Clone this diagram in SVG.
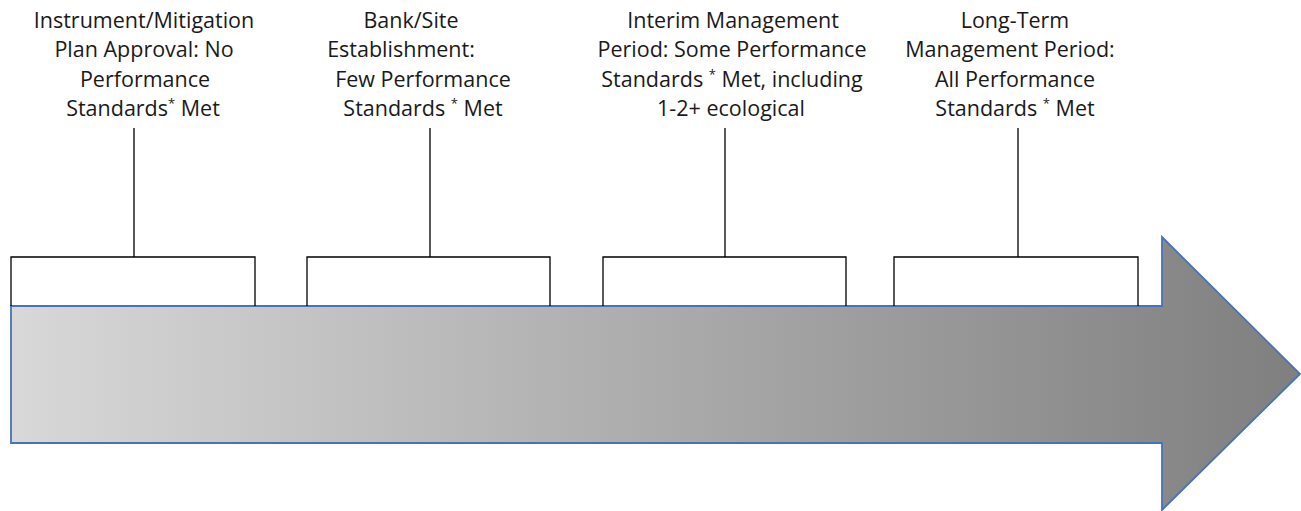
<svg xmlns="http://www.w3.org/2000/svg" width="1301" height="511" viewBox="0 0 1301 511">
  <defs>
    <linearGradient id="shaftFill" x1="11" y1="0" x2="1300" y2="0" gradientUnits="userSpaceOnUse">
      <stop offset="0" stop-color="#d8d8d8"/>
      <stop offset="1" stop-color="#7f7f7f"/>
    </linearGradient>
  </defs>
  <style>
    .label { font-family: "Open Sans", "Liberation Sans", sans-serif; font-size: 21.5px; fill: #1a1a1a; text-anchor: middle; }
    .sup { font-size: 13px; }
    .bracket { fill: none; stroke: #000; stroke-width: 1.3; }
    .timeline { fill: url(#shaftFill); stroke: #4a72b8; stroke-width: 1.8; stroke-linejoin: miter; }
  </style>

  <!-- Timeline arrow -->
  <g id="timeline">
    <path class="timeline" d="M11,306 H1162 V237 L1300,374 L1162,510 V443 H11 Z"/>
  </g>

  <!-- Connectors: brackets and stems from each label -->
  <g id="connectors">
    <path class="bracket" d="M134,128 V257 M11,306 V257 H255 V306"/>
    <path class="bracket" d="M430,128 V257 M307,306 V257 H550 V306"/>
    <path class="bracket" d="M725,128 V257 M603,306 V257 H846 V306"/>
    <path class="bracket" d="M1018,128 V257 M894,306 V257 H1138 V306"/>
  </g>

  <g id="stage-approval">
    <text class="label" x="144" y="28">Instrument/Mitigation</text>
    <text class="label" x="144" y="57">Plan Approval: No</text>
    <text class="label" x="145" y="87">Performance</text>
    <text class="label" x="143" y="116">Standards<tspan class="sup" dy="-8">*</tspan><tspan dy="8"> Met</tspan></text>
  </g>

  <g id="stage-establishment">
    <text class="label" x="411" y="28">Bank/Site</text>
    <text class="label" x="401" y="57">Establishment:</text>
    <text class="label" x="423" y="87">Few Performance</text>
    <text class="label" x="423" y="116">Standards <tspan class="sup" dy="-8">*</tspan><tspan dy="8"> Met</tspan></text>
  </g>

  <g id="stage-interim">
    <text class="label" x="733" y="28">Interim Management</text>
    <text class="label" x="732" y="57">Period: Some Performance</text>
    <text class="label" x="732" y="87">Standards <tspan class="sup" dy="-8">*</tspan><tspan dy="8"> Met, including</tspan></text>
    <text class="label" x="731" y="116">1-2+ ecological</text>
  </g>

  <g id="stage-long-term">
    <text class="label" x="1015" y="28">Long-Term</text>
    <text class="label" x="1010" y="57">Management Period:</text>
    <text class="label" x="1015" y="87">All Performance</text>
    <text class="label" x="1015" y="116">Standards <tspan class="sup" dy="-8">*</tspan><tspan dy="8"> Met</tspan></text>
  </g>
</svg>
